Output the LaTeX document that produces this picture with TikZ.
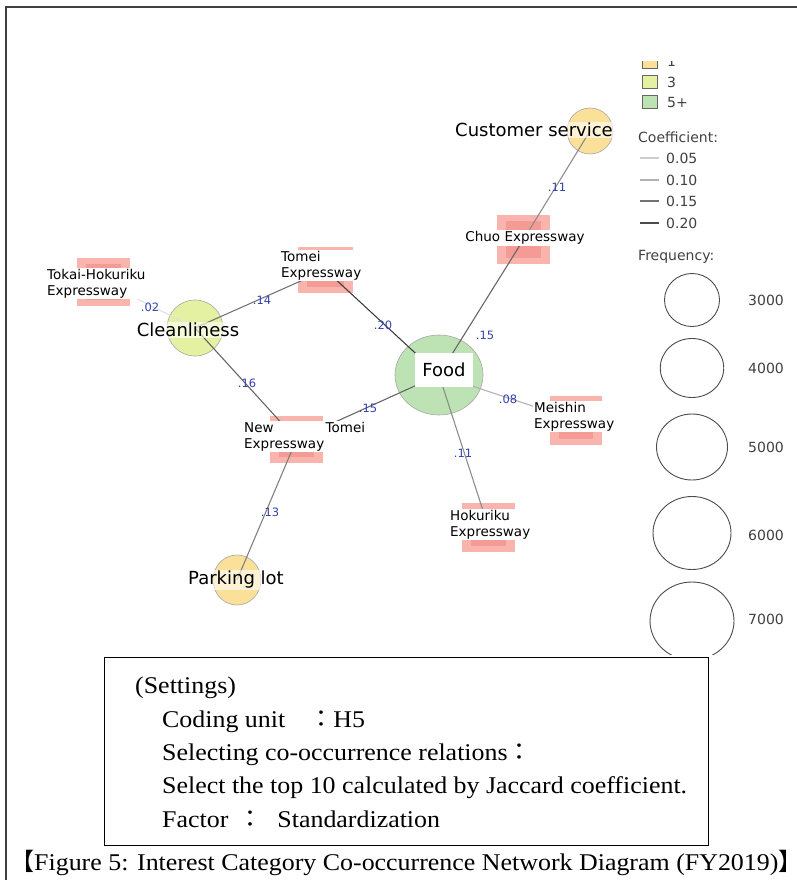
\documentclass[tikz,border=0pt]{standalone}
\usepackage{fontspec}
\setmainfont{Liberation Serif}
\newfontfamily\dv{DejaVu Sans}
\newfontfamily\serw[FakeStretch=1.08]{Liberation Serif}
\newfontfamily\cjk{Noto Sans CJK JP}
\usetikzlibrary{shapes.geometric}
\definecolor{yel}{HTML}{FBE09A}
\definecolor{ygr}{HTML}{E4F0A2}
\definecolor{grn}{HTML}{BDE3B5}
\definecolor{salO}{HTML}{F8B4AD}
\definecolor{salI}{HTML}{F39B94}
\definecolor{elab}{HTML}{3341B0}
\tikzset{
  cnode/.style={ellipse, draw=black!35, line width=0.6pt, inner sep=0pt},
  bigl/.style={font=\dv\fontsize{18}{20}\selectfont, fill=white, fill opacity=0.6, text opacity=1, inner sep=1pt},
  rnode/.style={rectangle, fill=salO, inner sep=0pt},
  smalll/.style={font=\dv\fontsize{13.5}{16}\selectfont, fill=white, inner sep=1pt, align=left, anchor=west},
  elabel/.style={font=\dv\fontsize{11.5}{12}\selectfont, text=elab, inner sep=0.5pt},
  edge/.style={line width=1.1pt},
  legt/.style={font=\dv\fontsize{14}{16}\selectfont, text=black!75, anchor=west, inner sep=0pt},
  legsq/.style={draw=black!60, line width=0.6pt},
  freqc/.style={ellipse, draw=black!70, line width=0.9pt, inner sep=0pt},
  setl/.style={font=\serw\fontsize{24}{28}\selectfont, anchor=base west, inner sep=0pt},
}
\begin{document}
\begin{tikzpicture}[x=1pt,y=-1pt]
\useasboundingbox (0,0) rectangle (796,880);
% frame
\draw[black!75, line width=2pt] (6,7) -- (797,7);
\draw[black!75, line width=2pt] (6,6) -- (6,881);

% circle nodes
\node[cnode, fill=grn, minimum width=88pt, minimum height=80pt] (food) at (439,375) {};
\node[cnode, fill=ygr, minimum width=56pt, minimum height=56pt] (clean) at (195,328) {};
\node[cnode, fill=yel, minimum width=46pt, minimum height=46pt] (cs) at (590,131) {};
\node[cnode, fill=yel, minimum width=48pt, minimum height=50pt] (park) at (237,580) {};

% rectangle nodes
\node[rnode, minimum width=53pt, minimum height=49pt] (chuo) at (523.5,239.5) {};
\node[rnode, minimum width=55pt, minimum height=46pt] (tomei) at (325.5,270) {};
\node[rnode, minimum width=53pt, minimum height=48pt] (tokai) at (103.5,282) {};
\node[rnode, minimum width=53pt, minimum height=47pt] (newtomei) at (296.5,439.5) {};
\node[rnode, minimum width=52pt, minimum height=49pt] (meishin) at (576,420.5) {};
\node[rnode, minimum width=53pt, minimum height=49pt] (hokuriku) at (488.5,527.5) {};
\foreach \n in {chuo,tomei,tokai,newtomei,meishin,hokuriku}{
  \fill[salI] ([shift={(9,6)}]\n.north west) rectangle ([shift={(-9,-6)}]\n.south east);
}

% edges
\draw[edge, black!45] (cs.center) -- (chuo.center);
\draw[edge, black!60] (chuo.center) -- (food.center);
\draw[edge, black!75] (tomei.center) -- (food.center);
\draw[edge, black!55] (clean.center) -- (tomei.center);
\draw[edge, black!12] (tokai.center) -- (clean.center);
\draw[edge, black!60] (clean.center) -- (newtomei.center);
\draw[edge, black!60] (newtomei.center) -- (food.center);
\draw[edge, black!30] (food.center) -- (meishin.center);
\draw[edge, black!45] (food.center) -- (hokuriku.center);
\draw[edge, black!50] (newtomei.center) -- (park.center);

% node labels
\node[bigl, fill opacity=1, minimum width=58pt, minimum height=34pt] (foodL) at (444,370) {Food};
\node[bigl] (cleanL) at (188,330) {Cleanliness};
\node[bigl] (csL) at (534,130) {Customer service};
\node[bigl] (parkL) at (236,580) {Parking lot};
\node[smalll, anchor=center] (chuoL) at (525,238) {Chuo Expressway};
\node[smalll] (tomeiL) at (280,265.5) {Tomei\\Expressway};
\node[smalll] (tokaiL) at (46,283.5) {Tokai-Hokuriku\\Expressway};
\node[smalll] (newtomeiL) at (243,436.5) {New\hspace{52pt}Tomei\\Expressway};
\node[smalll] (meishinL) at (533,416.5) {Meishin\\Expressway};
\node[smalll] (hokurikuL) at (449,524.5) {Hokuriku\\Expressway};

% edge labels
\node[elabel] (e1) at (557,187) {.11};
\node[elabel] (e2) at (485,335) {.15};
\node[elabel] (e3) at (383,325) {.20};
\node[elabel] (e4) at (262,300) {.14};
\node[elabel] (e5) at (150,307) {.02};
\node[elabel] (e6) at (247,383) {.16};
\node[elabel] (e7) at (368,408) {.15};
\node[elabel] (e8) at (508,399) {.08};
\node[elabel] (e9) at (463,453) {.11};
\node[elabel] (e10) at (270,512) {.13};

% legend
\begin{scope}
\clip (600,62) rectangle (796,654);
\draw[legsq, fill=yel] (642,55) rectangle (657,68);
\node[legt] (l1) at (667,61) {1};
\draw[legsq, fill=ygr] (642,75) rectangle (657,88);
\node[legt] (l3) at (667,82) {3};
\draw[legsq, fill=grn] (642,95) rectangle (657,108);
\node[legt] (l5) at (667,102) {5+};
\node[legt] (coef) at (638,137) {Coefficient:};
\draw[black!20, line width=1.1pt] (640,158) -- (659,158);
\node[legt] (c1) at (666,158) {0.05};
\draw[black!30, line width=1.1pt] (640,180) -- (659,180);
\node[legt] (c2) at (666,180) {0.10};
\draw[black!55, line width=1.1pt] (640,201) -- (659,201);
\node[legt] (c3) at (666,201) {0.15};
\draw[black!70, line width=1.1pt] (640,223) -- (659,223);
\node[legt] (c4) at (666,223) {0.20};
\node[legt] (freq) at (638,257) {Frequency:};
\node[freqc, minimum width=55pt, minimum height=53pt] (f3) at (692,300) {};
\node[legt] (f3L) at (748,300) {3000};
\node[freqc, minimum width=63.5pt, minimum height=59pt] (f4) at (692,368) {};
\node[legt] (f4L) at (748,368) {4000};
\node[freqc, minimum width=71pt, minimum height=66pt] (f5) at (692,447) {};
\node[legt] (f5L) at (748,447) {5000};
\node[freqc, minimum width=78pt, minimum height=73pt] (f6) at (692,533) {};
\node[legt] (f6L) at (748,535) {6000};
\node[freqc, minimum width=84pt, minimum height=78pt] (f7) at (692,621) {};
\node[legt] (f7L) at (748,619) {7000};
\end{scope}

% settings box
\node[draw=black, line width=1pt, minimum width=604pt, minimum height=188pt, anchor=north west, inner sep=0pt] (setbox) at (104,657) {};
\node[setl] (s1) at (135,693) {(Settings)};
\node[setl] (s2) at (162,727) {Coding unit{\cjk　：}H5};
\node[setl] (s3) at (162,760) {Selecting co-occurrence relations{\cjk ：}};
\node[setl] (s4) at (162,793) {Select the top 10 calculated by Jaccard coefficient.};
\node[setl] (s5) at (162,827) {Factor\hspace{10pt}{\cjk ：}\hspace{15pt}Standardization};
% caption
\node[setl] (cap) at (10,870) {{\cjk 【}Figure 5: Interest Category Co-occurrence Network Diagram (FY2019)\makebox[11pt][l]{\cjk 】}};
\end{tikzpicture}
\end{document}
